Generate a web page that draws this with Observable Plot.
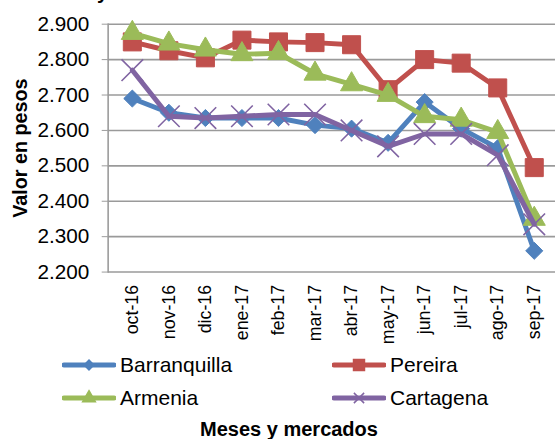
<!DOCTYPE html>
<html>
<head>
<meta charset="utf-8">
<script src="https://cdn.jsdelivr.net/npm/d3@7"></script>
<script src="https://cdn.jsdelivr.net/npm/@observablehq/plot@0.6"></script>
<style>
  html, body { margin: 0; padding: 0; background: #fff; }
  body { width: 555px; height: 439px; overflow: hidden; position: relative; font-family: "Liberation Sans", Arial, sans-serif; }
  #chart { position: absolute; left: 0; top: 0; }
  .frag { position: absolute; left: 97px; top: -18px; font-weight: bold; font-size: 20px; line-height: 20px; color: #000; }
  .leg { position: absolute; display: flex; align-items: center; font-size: 21px; color: #000; height: 26px; }
  .leg svg { display: block; margin-right: 4px; }
  .xtitle { position: absolute; left: 0; width: 578px; text-align: center; top: 418px; font-weight: bold; font-size: 20px; line-height: 22px; color: #000; }
</style>
</head>
<body>
<div class="frag">y</div>
<div id="chart"></div>
<div id="legend"></div>
<div class="xtitle">Meses y mercados</div>
<script>
const months = ["oct-16","nov-16","dic-16","ene-17","feb-17","mar-17","abr-17","may-17","jun-17","jul-17","ago-17","sep-17"];
const barranquilla = [2690, 2650, 2635, 2635, 2635, 2615, 2605, 2565, 2680, 2605, 2550, 2260];
const pereira      = [2850, 2825, 2805, 2855, 2850, 2848, 2842, 2715, 2800, 2790, 2720, 2495];
const armenia      = [2875, 2845, 2828, 2815, 2818, 2760, 2730, 2700, 2640, 2630, 2595, 2350];
const cartagena    = [2770, 2640, 2635, 2640, 2645, 2645, 2600, 2555, 2590, 2590, 2530, 2335];
const yTicks = [2200, 2300, 2400, 2500, 2600, 2700, 2800, 2900];

const series = [
  {name: "Barranquilla", values: barranquilla, color: "#4F81BD", symbol: "diamond2", r: 7.8, fill: true},
  {name: "Pereira", values: pereira, color: "#C0504D", symbol: "square", r: 10.3, fill: true},
  {name: "Armenia", values: armenia, color: "#9BBB59", symbol: "triangle", r: 8.3, fill: true},
  {name: "Cartagena", values: cartagena, color: "#8064A2", symbol: "times", r: 10, fill: false}
];

const fmt = d => d3.format(",")(d).replace(/,/g, ".");

const marks = [
  Plot.gridY({ticks: yTicks, stroke: "#9a9a9a", strokeOpacity: 1, strokeWidth: 1.6}),
  Plot.frame({anchor: "left", stroke: "#9a9a9a", strokeWidth: 1.6}),
  Plot.axisY({ticks: yTicks, tickFormat: fmt, tickSize: 6, tickPadding: 13, stroke: "#9a9a9a", fontSize: 21, label: null}),
  Plot.axisX({tickRotate: -90, tickSize: 0, tickPadding: 13, fontSize: 18, label: null}),
  Plot.text(["Valor en pesos"], {frameAnchor: "left", textAnchor: "middle", dx: -89, rotate: -90, fontWeight: "bold", fontSize: 20})
];

for (const s of series) {
  const data = months.map((m, i) => ({month: m, value: s.values[i]}));
  marks.push(Plot.line(data, {x: "month", y: "value", stroke: s.color, strokeWidth: 5, strokeLinejoin: "round", strokeLinecap: "round"}));
  if (s.fill) {
    marks.push(Plot.dot(data, {x: "month", y: "value", symbol: s.symbol, r: s.r, fill: s.color, stroke: s.color, strokeWidth: 1}));
  } else {
    marks.push(Plot.dot(data, {x: "month", y: "value", symbol: s.symbol, r: s.r, stroke: s.color, strokeWidth: 1.6, fill: "none"}));
  }
}

const chart = Plot.plot({
  width: 562,
  height: 355,
  marginLeft: 109,
  marginRight: 0,
  marginTop: 24,
  marginBottom: 80,
  insetLeft: 2,
  style: {fontFamily: "'Liberation Sans', Arial, sans-serif", fontSize: "20px", color: "#000", background: "transparent", overflow: "visible"},
  x: {type: "band", domain: months, padding: 0},
  y: {domain: [2200, 2900]},
  marks
});
document.getElementById("chart").appendChild(chart);

// Legend
const legPos = [
  {left: 62, top: 352},
  {left: 332, top: 352},
  {left: 62, top: 385},
  {left: 332, top: 385}
];
const legend = document.getElementById("legend");
series.forEach((s, i) => {
  const div = document.createElement("div");
  div.className = "leg";
  div.style.left = legPos[i].left + "px";
  div.style.top = legPos[i].top + "px";
  const svg = d3.create("svg").attr("width", 54).attr("height", 26);
  svg.append("line").attr("x1", 2).attr("x2", 52).attr("y1", 13).attr("y2", 13)
    .attr("stroke", s.color).attr("stroke-width", 5).attr("stroke-linecap", "round");
  const sym = {diamond2: d3.symbolDiamond2, square: d3.symbolSquare, triangle: d3.symbolTriangle, times: d3.symbolTimes}[s.symbol];
  const size = {diamond2: 60, square: 120, triangle: 70, times: 70}[s.symbol];
  svg.append("path").attr("transform", "translate(27,13)").attr("d", d3.symbol(sym, size)())
    .attr("fill", s.fill ? s.color : "none").attr("stroke", s.color).attr("stroke-width", 1.5);
  div.appendChild(svg.node());
  const span = document.createElement("span");
  span.textContent = s.name;
  div.appendChild(span);
  legend.appendChild(div);
});
</script>
</body>
</html>
